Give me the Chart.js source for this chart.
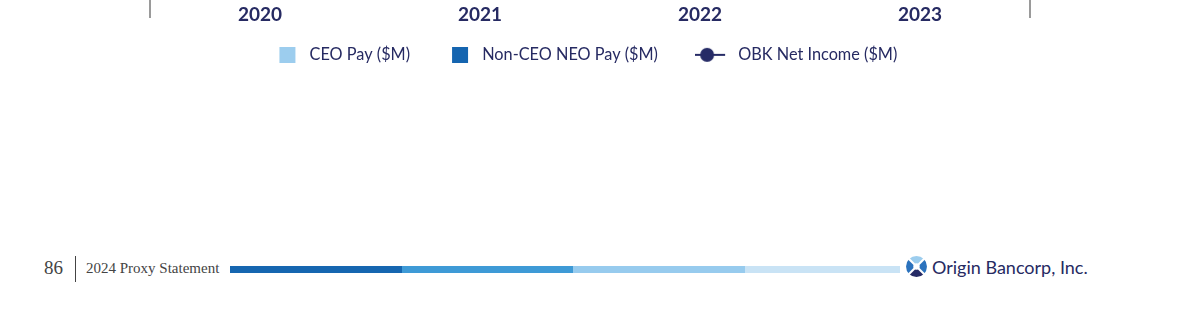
<!DOCTYPE html>
<html>
<head>
<meta charset="utf-8">
<script src="https://cdn.jsdelivr.net/npm/chart.js@4.4.1/dist/chart.umd.min.js"></script>
<style>
  html, body { margin:0; padding:0; background:#fff; width:1200px; height:315px; overflow:hidden; position:relative; }
  #wrap { position:absolute; left:0; top:-200px; width:1200px; height:300px; }
  .pg { position:absolute; left:44px; top:257px; font-family:"Liberation Serif", serif; font-size:19px; color:#444; }
  .vl { position:absolute; left:75px; top:256px; width:1px; height:26px; background:#444; }
  .ps { position:absolute; left:86px; top:260px; font-family:"Liberation Serif", serif; font-size:15px; color:#444; }
  .seg { position:absolute; top:266px; height:7px; }
  .logo { position:absolute; left:906px; top:256px; }
  .org { position:absolute; left:932px; top:256px; font-family:Lato, sans-serif; font-size:18px; color:#262a62; }
</style>
</head>
<body>
<div id="wrap"><canvas id="c" width="1200" height="300"></canvas></div>

<div class="pg">86</div>
<div class="vl"></div>
<div class="ps">2024 Proxy Statement</div>
<div class="seg" style="left:230px;width:172px;background:#1666b0"></div>
<div class="seg" style="left:402px;width:171px;background:#3e9ad6"></div>
<div class="seg" style="left:573px;width:172px;background:#97cbee"></div>
<div class="seg" style="left:745px;width:155px;background:#c9e3f5"></div>
<svg class="logo" width="21" height="21" viewBox="-10.5 -10.5 21 21">
  <path d="M0 0 L-7.4 -7.4 A10.5 10.5 0 0 1 7.4 -7.4 Z" fill="#9ccdee"/>
  <path d="M0 0 L7.4 -7.4 A10.5 10.5 0 0 1 7.4 7.4 Z" fill="#2b72bd"/>
  <path d="M0 0 L7.4 7.4 A10.5 10.5 0 0 1 -7.4 7.4 Z" fill="#262b66"/>
  <path d="M0 0 L-7.4 7.4 A10.5 10.5 0 0 1 -7.4 -7.4 Z" fill="#2b72bd"/>
  <line x1="-8" y1="-8" x2="8" y2="8" stroke="#fff" stroke-width="2.2"/>
  <line x1="8" y1="-8" x2="-8" y2="8" stroke="#fff" stroke-width="2.2"/>
  <circle cx="0" cy="0" r="3.2" fill="#fff"/>
</svg>
<div class="org">Origin Bancorp, Inc.</div>

<script>
// Data (the plot region lies outside the visible crop; no bar or point values are visible)
const categories = ["2020", "2021", "2022", "2023"];
const ceoPay = [null, null, null, null];
const nonCeoNeoPay = [null, null, null, null];
const netIncome = [null, null, null, null];
const seriesNames = ["CEO Pay ($M)", "Non-CEO NEO Pay ($M)", "OBK Net Income ($M)"];

const NAVY = "#262b66";
const LIGHT = "#9ccdee";
const DARK = "#1565b0";
const AXIS_GRAY = "#9a9a9a";
const BOXW = 35;
// invisible trailing spacing used only to fine-tune legend item spacing
const legendTail = ["", "\u2002", "\u2003\u2009\u2009"];

function squareImg(color) {
  const c = document.createElement("canvas");
  c.width = BOXW; c.height = 16;
  const g = c.getContext("2d");
  g.fillStyle = color; g.fillRect(BOXW - 22, 0, 16, 16);
  return c;
}
function lineImg(color) {
  const c = document.createElement("canvas");
  c.width = BOXW; c.height = 16;
  const g = c.getContext("2d");
  const x0 = BOXW - 37;
  g.strokeStyle = color; g.lineWidth = 2;
  g.beginPath(); g.moveTo(x0, 8); g.lineTo(x0 + 32, 8); g.stroke();
  g.fillStyle = color; g.beginPath(); g.arc(x0 + 14, 8, 7, 0, Math.PI * 2); g.fill();
  return c;
}
const legendImgs = [squareImg(LIGHT), squareImg(DARK), lineImg(NAVY)];

new Chart(document.getElementById("c"), {
  type: "bar",
  data: {
    labels: categories,
    datasets: [
      { label: seriesNames[0], data: ceoPay, backgroundColor: LIGHT, yAxisID: "y", order: 2 },
      { label: seriesNames[1], data: nonCeoNeoPay, backgroundColor: DARK, yAxisID: "y", order: 2 },
      { label: seriesNames[2], data: netIncome, type: "line", borderColor: NAVY, backgroundColor: NAVY,
        pointRadius: 7, borderWidth: 2, yAxisID: "y1", order: 1 }
    ]
  },
  options: {
    responsive: false,
    animation: false,
    layout: { padding: { left: 150, right: 170, top: 0, bottom: 27 } },
    scales: {
      x: {
        offset: true,
        border: { display: false },
        grid: { display: false, drawTicks: false },
        ticks: { mirror: true, padding: 0, color: "#262a62",
                 font: { family: "Lato", size: 19, weight: "bold", lineHeight: "5px" } }
      },
      y: {
        position: "left", min: 0, max: 10,
        grid: { display: false, drawTicks: false },
        ticks: { display: false },
        border: { display: true, color: AXIS_GRAY, width: 2 }
      },
      y1: {
        position: "right", min: 0, max: 120,
        grid: { display: false, drawTicks: false },
        ticks: { display: false },
        border: { display: true, color: AXIS_GRAY, width: 2 }
      }
    },
    plugins: {
      tooltip: { enabled: false },
      legend: {
        position: "bottom",
        labels: {
          usePointStyle: true,
          pointStyleWidth: BOXW,
          boxHeight: 16,
          padding: 29,
          color: "#262a62",
          font: { family: "Lato", size: 16.3 },
          generateLabels: (chart) => chart.data.datasets.map((d, i) => ({
            text: d.label + legendTail[i], pointStyle: legendImgs[i], fontColor: "#262a62",
            fillStyle: "transparent", strokeStyle: "transparent", lineWidth: 0, hidden: false, datasetIndex: i
          }))
        }
      }
    }
  }
});
</script>
</body>
</html>
